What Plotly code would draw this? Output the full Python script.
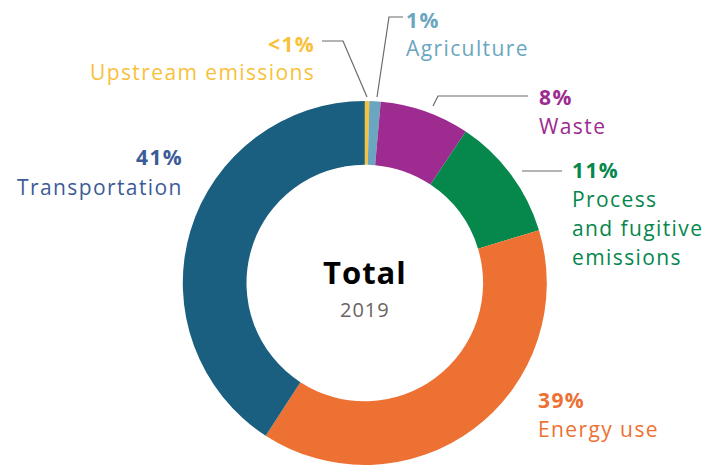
import plotly.graph_objects as go

# Emission shares by sector, 2019 (percent), clockwise from 12 o'clock
sectors = ["Upstream emissions", "Agriculture", "Waste",
           "Process and fugitive emissions", "Energy use", "Transportation"]
shares = [0.4, 1, 8, 11, 39, 41]
share_labels = ["<1%", "1%", "8%", "11%", "39%", "41%"]
label_lines = [["Upstream emissions"], ["Agriculture"], ["Waste"],
               ["Process", "and fugitive", "emissions"], ["Energy use"], ["Transportation"]]
slice_colors = ["#f8c13a", "#6ba6c0", "#9d2b90", "#06874c", "#ec7133", "#1a5f80"]
text_colors = ["#f8c13a", "#6ba6c0", "#9d2b90", "#06874c", "#ec7133", "#3d5b97"]
center_title = "Total"
center_year = "2019"

W, H = 726, 466
FONT = "Open Sans"
SP = "letter-spacing:1.4px"


def px(x):
    return x / W


def py(y):
    return 1 - y / H


fig = go.Figure(go.Pie(
    labels=sectors, values=shares, sort=False, direction="clockwise", rotation=0,
    hole=0.65, marker=dict(colors=slice_colors, line=dict(width=0)),
    textinfo="none", hoverinfo="label+value", showlegend=False,
    domain=dict(x=[px(364.8 - 182), px(364.8 + 182)], y=[py(283 + 182), py(283 - 182)]),
))

# label placement: (anchor x, x anchor, y of percent line, line step)
placement = [
    (317, "right", 44, 28),
    (404, "left", 20, 28),
    (537, "left", 97, 29),
    (570, "left", 170, 29),
    (536, "left", 400, 29),
    (185, "right", 157, 30),
]

annotations = []
for i, (x, xa, y0, step) in enumerate(placement):
    annotations.append(dict(
        x=px(x), y=py(y0), xref="paper", yref="paper", xanchor=xa, yanchor="middle",
        text=f"<b><span style='{SP}'>{share_labels[i]}</span></b>", showarrow=False,
        font=dict(family=FONT, size=21, color=text_colors[i])))
    for j, line in enumerate(label_lines[i]):
        annotations.append(dict(
            x=px(x), y=py(y0 + step * (j + 1)), xref="paper", yref="paper",
            xanchor=xa, yanchor="middle",
            text=f"<span style='{SP}'>{line}</span>", showarrow=False,
            font=dict(family=FONT, size=21, color=text_colors[i])))

annotations.append(dict(
    x=px(364.5), y=py(272), xref="paper", yref="paper", xanchor="center", yanchor="middle",
    text=f"<b><span style='letter-spacing:1px'>{center_title}</span></b>", showarrow=False,
    font=dict(family=FONT, size=31, color="#000000")))
annotations.append(dict(
    x=px(364.5), y=py(309), xref="paper", yref="paper", xanchor="center", yanchor="middle",
    text=f"<span style='letter-spacing:1px'>{center_year}</span>", showarrow=False,
    font=dict(family=FONT, size=20, color="#6b6360")))

# leader lines from labels to thin slices
leaders = [
    [(322, 41), (343, 41), (367, 97)],
    [(403, 17), (389, 17), (377, 97)],
    [(433, 106), (438, 96), (528, 96)],
    [(522, 171), (562, 171)],
]
shapes = []
for pts in leaders:
    path = "M " + " L ".join(f"{px(x)},{py(y)}" for x, y in pts)
    shapes.append(dict(type="path", path=path, xref="paper", yref="paper",
                       line=dict(color="#6d6a69", width=1.2)))

fig.update_layout(
    width=W, height=H, margin=dict(l=0, r=0, t=0, b=0),
    paper_bgcolor="white", plot_bgcolor="white",
    annotations=annotations, shapes=shapes,
)

fig.write_html("out.html")
